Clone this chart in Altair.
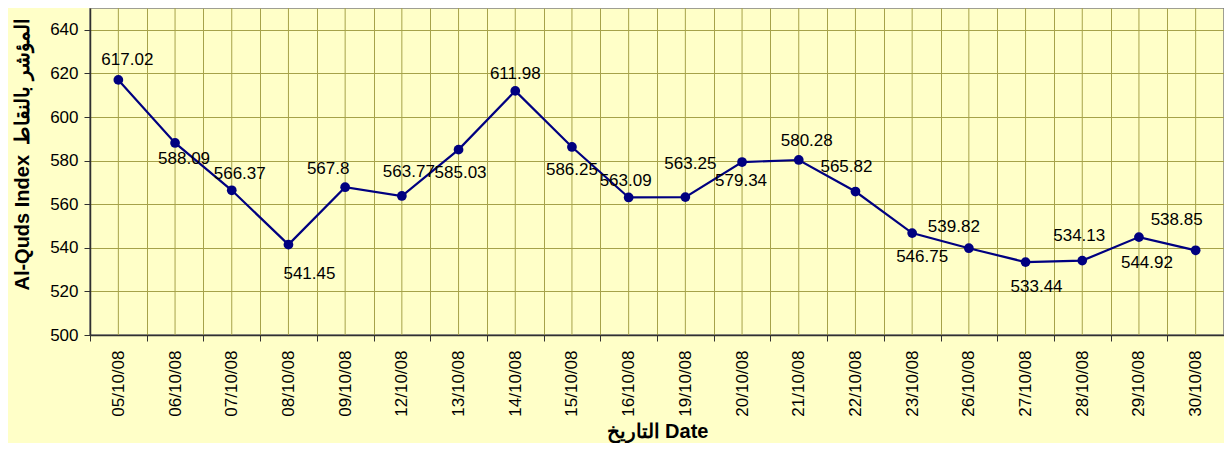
import altair as alt
import pandas as pd

dates = ["05/10/08", "06/10/08", "07/10/08", "08/10/08", "09/10/08", "12/10/08",
         "13/10/08", "14/10/08", "15/10/08", "16/10/08", "19/10/08", "20/10/08",
         "21/10/08", "22/10/08", "23/10/08", "26/10/08", "27/10/08", "28/10/08",
         "29/10/08", "30/10/08"]
values = [617.02, 588.09, 566.37, 541.45, 567.8, 563.77, 585.03, 611.98, 586.25,
          563.09, 563.25, 579.34, 580.28, 565.82, 546.75, 539.82, 533.44, 534.13,
          544.92, 538.85]
labels = ["617.02", "588.09", "566.37", "541.45", "567.8", "563.77", "585.03",
          "611.98", "586.25", "563.09", "563.25", "579.34", "580.28", "565.82",
          "546.75", "539.82", "533.44", "534.13", "544.92", "538.85"]
y_ticks = [500, 520, 540, 560, 580, 600, 620, 640]

# layout: pixel offsets of each data label from its point (styling, not data)
label_dx = [9, 9, 8, 21, -17, 7, 2, 0, 0, -3, 5, -1, 8, -9, 10, -15, 11, -3, 8, -19]
label_dy = [-20, 16, -16, 29, -18, -24, 23, -17, 23, -16, -33, 19, -19, -25, 24, -21, 25, -25, 26, -30]

df = pd.DataFrame({"date": dates, "value": values, "label": labels})

FONT = "Liberation Sans"
GRID = "#A6A24A"
NAVY = "#000080"
BG = "#FFFFC8"

x_enc = alt.X("date:N", sort=dates,
              scale=alt.Scale(paddingInner=0, paddingOuter=0),
              axis=alt.Axis(title="التاريخ Date", labelAngle=-90, labelFontSize=17,
                            labelFont=FONT, labelColor="#000000", tickBand="extent",
                            tickSize=6, labelPadding=9, tickColor="#303030",
                            domainColor="#303030", domainWidth=1.5,
                            grid=True, gridColor=GRID, gridWidth=1,
                            titleFont=FONT, titleFontSize=20, titleFontWeight="bold",
                            titleColor="#000000", titleY=96, titleBaseline="middle"))
y_enc = alt.Y("value:Q",
              scale=alt.Scale(domain=[500, 650], nice=False, zero=False),
              axis=alt.Axis(title="Al-Quds Index\u2002المؤشر بالنقاط", values=y_ticks,
                            labelFontSize=17, labelFont=FONT, labelColor="#000000",
                            tickSize=6, labelPadding=6, tickColor="#303030",
                            domainColor="#303030", domainWidth=1.5,
                            grid=True, gridColor=GRID, gridWidth=1,
                            titleFont=FONT, titleFontSize=20, titleFontWeight="bold",
                            titleColor="#000000", titleX=-68, titleY=146,
                            titleAlign="center", titleBaseline="middle", titleAngle=270))

base = alt.Chart(df)

center_grid = base.mark_rule(color=GRID, strokeWidth=1).encode(
    x=alt.X("date:N", sort=dates))

line = base.mark_line(color=NAVY, strokeWidth=2.2).encode(x=x_enc, y=y_enc)
pts = base.mark_point(filled=True, color=NAVY, size=95, opacity=1).encode(
    x=alt.X("date:N", sort=dates), y="value:Q")

text_layers = []
for d, ddx, ddy in zip(dates, label_dx, label_dy):
    text_layers.append(
        base.transform_filter(alt.datum.date == d)
        .mark_text(fontSize=17, font=FONT, color="#000000", baseline="middle",
                   align="center", dx=ddx, dy=ddy)
        .encode(x=alt.X("date:N", sort=dates), y="value:Q", text="label:N")
    )

chart = alt.layer(line, center_grid, pts, *text_layers).properties(
    width=1134, height=327,
    autosize=alt.AutoSizeParams(type="none"),
    padding={"left": 82, "top": 0, "right": 0, "bottom": 108},
    background=BG,
).configure_view(fill=BG, stroke="#808080", strokeWidth=1.5)

chart.save("out.html", embed_options={"renderer": "svg", "actions": False})
